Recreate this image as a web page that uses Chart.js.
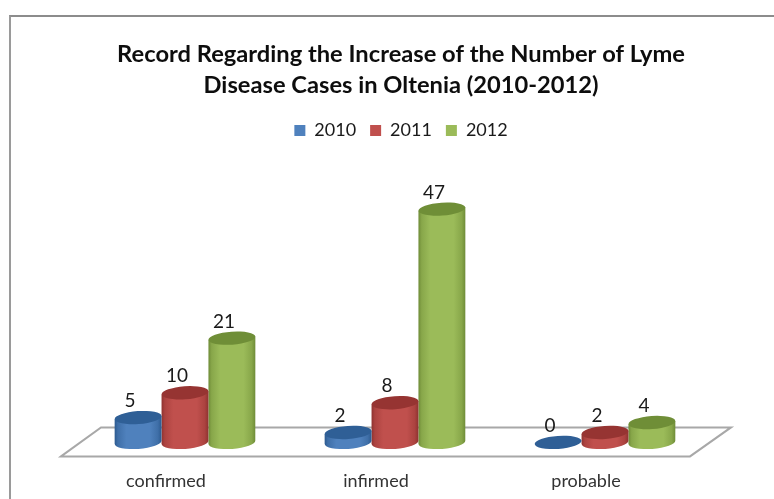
<!DOCTYPE html>
<html>
<head>
<meta charset="utf-8">
<style>
  html, body { margin: 0; padding: 0; background: #fff; }
  #wrap { position: relative; width: 774px; height: 499px; overflow: hidden; }
  #frame { position: absolute; left: 9px; top: 15px; right: -4px; bottom: -4px; border-left: 2px solid #9a9a9a; border-top: 2px solid #8c8c8c; }
  canvas { position: absolute; left: 0; top: 0; }
</style>
</head>
<body>
<div id="wrap">
  <div id="frame"></div>
  <canvas id="chart" width="774" height="499"></canvas>
</div>
<script src="https://cdn.jsdelivr.net/npm/chart.js@4/dist/chart.umd.min.js"></script>
<script>
const categories = ['confirmed', 'infirmed', 'probable'];
const years      = ['2010', '2011', '2012'];
const values2010 = [5, 2, 0];
const values2011 = [10, 8, 2];
const values2012 = [21, 47, 4];
const titleLines = ['Record Regarding the Increase of the Number of Lyme', 'Disease Cases in Oltenia (2010-2012)'];

// base, edge (side shading), top cap
const SHADES = [
    { base: '#4F81BD', mid: '#3F6FA8', edge: '#2C5A8F', cap: '#2F5F96' },
    { base: '#C0504D', mid: '#AC4340', edge: '#8E3230', cap: '#963432' },
    { base: '#9BBB59', mid: '#88A74A', edge: '#6F8C38', cap: '#6F8E37' }
];
const textFont = 'Lato, Carlito, sans-serif';

// ── Cilindros en vez de barras planas ──
const TILT = -0.07;
const RY   = 6.5;

function drawCylinder(ctx, el, shade) {
    const rx = el.width / 2;
    const left = el.x - rx, right = el.x + rx;
    const g = ctx.createLinearGradient(left, 0, right, 0);
    g.addColorStop(0,    shade.edge);
    g.addColorStop(0.07, shade.mid);
    g.addColorStop(0.25, shade.base);
    g.addColorStop(0.75, shade.base);
    g.addColorStop(0.92, shade.mid);
    g.addColorStop(1,    shade.edge);

    const dy = rx * Math.sin(TILT);
    if (el.base - el.y > 0.5) {
        ctx.beginPath();
        ctx.moveTo(left, el.y - dy);
        ctx.lineTo(left, el.base - dy);
        ctx.ellipse(el.x, el.base, rx, RY, TILT, Math.PI, 0, true);
        ctx.lineTo(right, el.y + dy);
        ctx.closePath();
        ctx.fillStyle = g;
        ctx.fill();
    }
    ctx.beginPath();
    ctx.ellipse(el.x, el.y, rx, RY, TILT, 0, Math.PI * 2);
    ctx.fillStyle = shade.cap;
    ctx.fill();
}

const cylinderPlugin = {
    id: 'cylinders',
    beforeDatasetsDraw(chart) {
        // suelo en perspectiva
        const { ctx, chartArea: a, scales } = chart;
        const y0 = scales.y.getPixelForValue(0);
        ctx.save();
        ctx.beginPath();
        ctx.moveTo(a.left - 19, y0 + 14);
        ctx.lineTo(a.left + 21, y0 - 15);
        ctx.lineTo(a.right + 21, y0 - 15);
        ctx.lineTo(a.right - 20, y0 + 14);
        ctx.closePath();
        ctx.strokeStyle = '#A8A8A8';
        ctx.lineWidth = 2;
        ctx.stroke();
        ctx.restore();
    },
    beforeDatasetDraw(chart, args) {
        const { ctx } = chart;
        ctx.save();
        args.meta.data.forEach(el => drawCylinder(ctx, el, SHADES[args.index]));
        ctx.restore();
        return false;
    },
    afterDatasetsDraw(chart) {
        const { ctx } = chart;
        ctx.save();
        ctx.fillStyle = '#1a1a1a';
        ctx.font = `19px ${textFont}`;
        ctx.textAlign = 'center';
        ctx.textBaseline = 'middle';
        chart.data.datasets.forEach((ds, i) => {
            chart.getDatasetMeta(i).data.forEach((el, j) => {
                ctx.fillText(ds.data[j], el.x - 8, el.y - 16.5);
            });
        });
        ctx.restore();
    }
};

new Chart(document.getElementById('chart'), {
    type: 'bar',
    data: {
        labels: categories,
        datasets: [
            { label: years[0], data: values2010, backgroundColor: SHADES[0].base },
            { label: years[1], data: values2011, backgroundColor: SHADES[1].base },
            { label: years[2], data: values2012, backgroundColor: SHADES[2].base }
        ]
    },
    options: {
        responsive: false,
        animation: false,
        categoryPercentage: 0.67,
        barPercentage: 1,
        layout: { padding: { left: 80, right: 52, top: 0, bottom: 7 } },
        plugins: {
            title: {
                display: true,
                text: titleLines,
                color: '#0d0d0d',
                font: { family: textFont, size: 23.7, weight: 'bold', lineHeight: 1.32 },
                padding: { top: 38.5, bottom: 6.5 }
            },
            legend: {
                position: 'top',
                labels: {
                    boxWidth: 11,
                    boxHeight: 11,
                    padding: 14,
                    color: '#1a1a1a',
                    font: { family: textFont, size: 18 }
                }
            },
            tooltip: { enabled: false }
        },
        scales: {
            x: {
                grid: { display: false, drawTicks: true, tickLength: 28 },
                border: { display: false },
                ticks: { color: '#333', font: { family: textFont, size: 18 }, padding: 0, labelOffset: -19, maxRotation: 0 }
            },
            y: {
                position: 'right',
                min: 0,
                max: 59,
                grid: { display: false },
                border: { display: false },
                ticks: { display: false },
                afterFit: s => { s.width = 12; }
            }
        }
    },
    plugins: [cylinderPlugin]
});
</script>
</body>
</html>
